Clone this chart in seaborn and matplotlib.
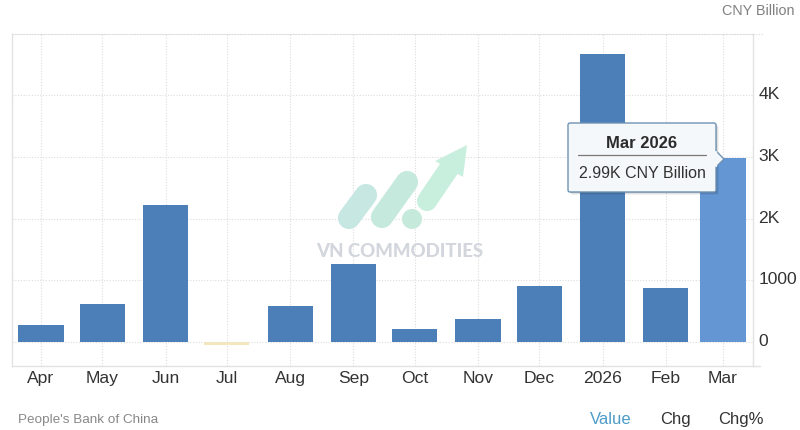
#!/usr/bin/env python3
import matplotlib
matplotlib.use("Agg")
import matplotlib.dates as mdates
import matplotlib.pyplot as plt
import pandas as pd
import seaborn as sns
from matplotlib.patches import Circle, FancyBboxPatch, Polygon
from matplotlib.transforms import ScaledTranslation

months = ["2025-04-01", "2025-05-01", "2025-06-01", "2025-07-01", "2025-08-01", "2025-09-01",
          "2025-10-01", "2025-11-01", "2025-12-01", "2026-01-01", "2026-02-01", "2026-03-01"]
tick_labels = ["Apr", "May", "Jun", "Jul", "Aug", "Sep", "Oct", "Nov", "Dec", "2026", "Feb", "Mar"]
values = [280, 610, 2220, -50, 580, 1260, 210, 370, 900, 4670, 880, 2990]
y_ticks = [0, 1000, 2000, 3000, 4000]
y_labels = ["0", "1000", "2K", "3K", "4K"]

W, H = 800, 431
BLUE = "#4c7fb8"
HOVER = "#6496d3"
NEG = "#f3e5bd"
GRID = "#dcdcdc"
FRAME = "#e2e2e2"
DOTS = (0, (1, 1.5))


def bar_kind(value, label):
    if label == "Mar":
        return "hover"
    return "neg" if value < 0 else "pos"


def draw_bars(ax):
    df = pd.DataFrame({"date": mdates.date2num(pd.to_datetime(months)), "value": values})
    df["kind"] = [bar_kind(v, l) for v, l in zip(values, tick_labels)]
    sns.barplot(
        data=df, x="date", y="value", hue="kind", dodge=False, native_scale=True,
        palette={"pos": BLUE, "neg": NEG, "hover": HOVER}, saturation=1,
        width=0.79, linewidth=0, legend=False, ax=ax, zorder=2,
    )
    # axis range comes from the plot frame in the picture
    ax.set_xlim(df["date"].iloc[0] - 14.2, df["date"].iloc[-1] + 14.7)
    ax.set_ylim(-389, 4992)
    ax.set_xticks(df["date"], tick_labels)
    ax.set_yticks(y_ticks, y_labels)
    ax.yaxis.tick_right()
    ax.set_xlabel("")
    ax.set_ylabel("")
    ax.tick_params(axis="both", length=0, labelsize=12.6, labelcolor="#333333")
    ax.tick_params(axis="x", pad=3.2)
    ax.tick_params(axis="y", pad=4)
    # value labels sit a little above their grid lines
    lift = ScaledTranslation(0, 3 / 100, ax.figure.dpi_scale_trans)
    for label in ax.get_yticklabels():
        label.set_transform(label.get_transform() + lift)
    ax.set_axisbelow(True)
    ax.grid(True, color=GRID, linestyle=DOTS, linewidth=0.8)
    for side in ["left", "bottom", "right"]:
        ax.spines[side].set_color(FRAME)
        ax.spines[side].set_linewidth(1.0)
    ax.spines["top"].set_color(GRID)
    ax.spines["top"].set_linestyle(DOTS)
    ax.spines["top"].set_linewidth(0.8)


def draw_watermark(ov):
    pill = dict(lw=16, solid_capstyle="round", zorder=3)
    ov.plot([349, 366], [219, 196], color="#c6e7e2", **pill)
    ov.plot([382, 407], [218, 183], color="#c6e9dd", **pill)
    ov.add_patch(Circle((412, 220), 10, color="#c5eadb", lw=0, zorder=3))
    ov.plot([427, 450], [202, 168], color="#c8eedd", lw=14.5, solid_capstyle="round", zorder=3)
    ov.add_patch(Polygon([(467, 146), (435, 162), (463, 178)], closed=True,
                         color="#c8eedd", lw=0, zorder=3))
    ov.text(400, 252, "VN COMMODITIES", family="Lato", weight="black", fontsize=13.4,
            color="#d3d6dd", ha="center", va="center", zorder=3)


def draw_tooltip(ov):
    x0, y0, x1, y1 = 568, 124, 716, 193
    for off, alpha in [(3, 0.05), (2, 0.08), (1, 0.12)]:
        ov.add_patch(FancyBboxPatch((x0 + off, y0 + off), x1 - x0, y1 - y0,
                                    boxstyle="round,pad=0,rounding_size=2",
                                    fc="black", ec="none", alpha=alpha, zorder=4))
    ov.add_patch(Polygon([(716, 152), (724, 160), (716, 168)], closed=True,
                         fc="#f5f8fa", ec="#6f93b5", lw=1, zorder=4.5))
    ov.add_patch(FancyBboxPatch((x0, y0), x1 - x0, y1 - y0,
                                boxstyle="round,pad=0,rounding_size=2",
                                fc="#f5f8fa", ec="#6f93b5", lw=1, zorder=5))
    ov.plot([715.5, 715.5], [153, 167], color="#f5f8fa", lw=1.6, zorder=5.5)
    ov.text(642, 143.5, "Mar 2026", fontsize=11.9, weight="bold", color="#2b2b2b",
            ha="center", va="center", zorder=6)
    ov.plot([578, 706], [155.5, 155.5], color="#777777", lw=0.9, zorder=6)
    ov.text(642, 173.5, "2.99K CNY Billion", fontsize=11.5, color="#333333",
            ha="center", va="center", zorder=6)


def draw_captions(ov):
    ov.text(794, 11, "CNY Billion", fontsize=10.4, color="#808080", ha="right", va="center")
    ov.text(18, 420, "People's Bank of China", fontsize=9.7, color="#888888", ha="left", va="center")
    ov.text(590, 420, "Value", fontsize=12, color="#4c9cc8", ha="left", va="center")
    ov.text(660, 420, "Chg", fontsize=12, color="#333333", ha="left", va="center")
    ov.text(718, 420, "Chg%", fontsize=12, color="#333333", ha="left", va="center")
    # frame lines run on a little past the right edge
    ov.plot([753, 760], [367, 367], color=FRAME, lw=1, zorder=1)
    ov.plot([753, 763], [35, 35], color=GRID, lw=0.8, linestyle=DOTS, zorder=1)


def main():
    sns.set_theme(style="white")
    plt.rcParams["font.family"] = ["Liberation Sans", "DejaVu Sans"]

    fig = plt.figure(figsize=(W / 100, H / 100), dpi=100)
    ax = fig.add_axes([12 / W, 1 - 367 / H, (753 - 12) / W, (367 - 35) / H])
    draw_bars(ax)

    # overlay in picture pixels for the watermark, tooltip and captions
    ov = fig.add_axes([0, 0, 1, 1], facecolor="none")
    ov.set_xlim(0, W)
    ov.set_ylim(H, 0)
    ov.axis("off")
    draw_watermark(ov)
    draw_tooltip(ov)
    draw_captions(ov)

    fig.savefig("out.png", dpi=100)


if __name__ == "__main__":
    main()
